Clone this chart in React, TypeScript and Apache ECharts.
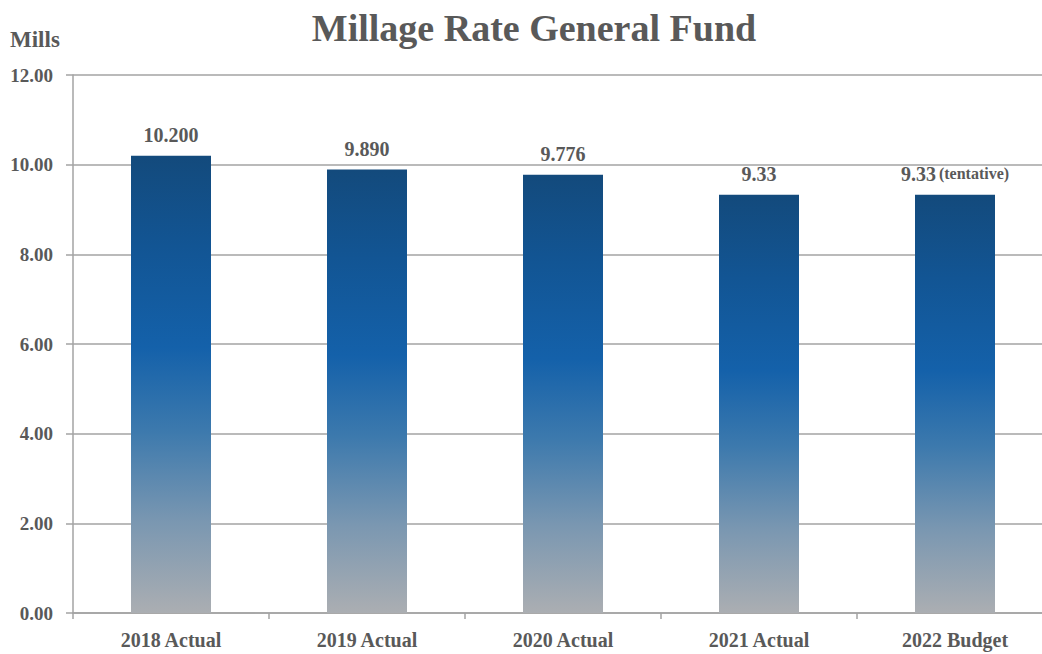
import React, { useEffect, useRef } from "react";
import * as echarts from "echarts";

const categories = ["2018 Actual", "2019 Actual", "2020 Actual", "2021 Actual", "2022 Budget"];
const values = [10.2, 9.89, 9.776, 9.33, 9.33];
const valueLabels = ["10.200", "9.890", "9.776", "9.33", "9.33"];
const labelNotes = ["", "", "", "", "(tentative)"];

const FONT = "'Liberation Serif', 'DejaVu Serif', serif";
const GRAY = "#595959";
const LINE = "#a3a3a3";

export default function App() {
  const ref = useRef<HTMLDivElement>(null);
  useEffect(() => {
    document.body.style.margin = "0";
    const chart = echarts.init(ref.current!, null, { renderer: "svg" });
    const grad = new echarts.graphic.LinearGradient(0, 0, 0, 1, [
      { offset: 0, color: "#134a7c" },
      { offset: 0.2, color: "#125594" },
      { offset: 0.42, color: "#1461aa" },
      { offset: 0.6, color: "#3c79ad" },
      { offset: 0.8, color: "#7a97b1" },
      { offset: 1, color: "#abaeb2" },
    ]);
    chart.setOption({
      animation: false,
      textStyle: { fontFamily: FONT },
      title: {
        text: "Millage Rate General Fund",
        left: 529,
        textAlign: "center",
        top: 4,
        textStyle: { fontFamily: FONT, fontSize: 38, fontWeight: "bold", color: GRAY },
      },
      graphic: [
        {
          type: "text",
          left: 10,
          top: 28,
          style: { text: "Mills", font: `bold 23px ${FONT}`, fill: GRAY },
        },
      ],
      grid: { left: 73, top: 75, width: 980, height: 538, containLabel: false },
      xAxis: {
        type: "category",
        data: categories,
        axisLine: { lineStyle: { color: LINE, width: 1.5 } },
        axisTick: { show: true, length: 6, lineStyle: { color: LINE, width: 1.5 } },
        axisLabel: { color: GRAY, fontFamily: FONT, fontSize: 20, fontWeight: "bold", margin: 17 },
      },
      yAxis: {
        type: "value",
        min: 0,
        max: 12,
        interval: 2,
        axisLine: { show: true, lineStyle: { color: LINE, width: 1.5 } },
        axisTick: { show: true, length: 7, lineStyle: { color: LINE, width: 1.5 } },
        splitLine: { lineStyle: { color: LINE, width: 1.5 } },
        axisLabel: {
          color: GRAY,
          fontFamily: FONT,
          fontSize: 19,
          fontWeight: "bold",
          margin: 20,
          formatter: (v: number) => v.toFixed(2),
        },
      },
      series: [
        {
          type: "bar",
          data: values,
          barWidth: 80,
          itemStyle: { color: grad },
          label: {
            show: true,
            position: "top",
            distance: 11,
            formatter: (p: any) => {
              const note = labelNotes[p.dataIndex];
              return note ? `{v|${valueLabels[p.dataIndex]}} {n|${note}}` : `{v|${valueLabels[p.dataIndex]}}`;
            },
            rich: {
              v: { fontFamily: FONT, fontSize: 20, fontWeight: "bold", color: GRAY },
              n: { fontFamily: FONT, fontSize: 16, fontWeight: "bold", color: GRAY },
            },
          },
        },
      ],
    });
    return () => chart.dispose();
  }, []);
  return (
    <div style={{ width: 1042, height: 654, overflow: "hidden", position: "relative" }}>
      <div ref={ref} style={{ width: 1056, height: 654 }} />
    </div>
  );
}
